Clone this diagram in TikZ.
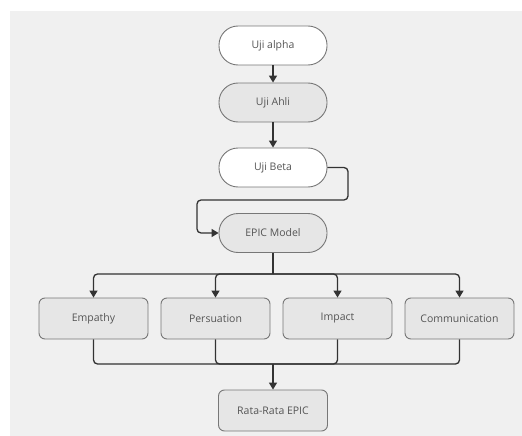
\documentclass[tikz,border=0pt]{standalone}
\usepackage{fontspec}
\setmainfont{Open Sans}
\usepackage{tikz}
\usepackage{xcolor}
\usetikzlibrary{arrows.meta,positioning,calc}
\definecolor{sheet}{HTML}{F0F0F0}
\definecolor{boxgray}{HTML}{E6E6E6}
\definecolor{rim}{HTML}{777777}
\definecolor{ink}{HTML}{333333}
\definecolor{textgray}{HTML}{555555}
\tikzset{
  pill/.style={draw=rim,fill=white,line width=0.9pt,rounded corners=19pt,
               minimum width=108pt,minimum height=39pt,align=center,
               font=\fontsize{10.5}{12}\selectfont,text=textgray},
  graypill/.style={pill,fill=boxgray},
  card/.style={draw=rim,fill=boxgray,line width=0.9pt,rounded corners=6pt,
               minimum width=109pt,minimum height=41pt,align=center,
               font=\fontsize{10.5}{12}\selectfont,text=textgray},
  link/.style={line width=1.3pt,draw=ink,rounded corners=4pt},
  arr/.style={link,-{Triangle[length=7pt,width=8pt]}}
}
\begin{document}
\begin{tikzpicture}[x=1pt,y=-1pt]
    \useasboundingbox (0,0) rectangle (522,436);
    \fill[sheet] (10,11) rectangle (522,436);
    % upper chain
    \node[pill] (alpha) at (273,45.5) {Uji alpha};
    \node[graypill] (ahli) at (273,102.5) {Uji Ahli};
    \node[pill] (beta) at (273,167.5) {Uji Beta};
    \node[graypill] (epic) at (273,233) {EPIC Model};
    % the four dimensions
    \node[card] (empathy) at (93.5,318.5) {Empathy};
    \node[card] (persuation) at (215.5,318.5) {Persuation};
    \node[card] (impact) at (337.5,318.5) {Impact};
    \node[card] (communication) at (459.5,318.5) {Communication};
    \node[card] (rata) at (273,410.5) {Rata-Rata EPIC};
    \coordinate (bend1) at (348,200);
    \coordinate (bend2) at (197,200);
    \coordinate (split) at (273,274);
    \coordinate (merge) at (273,364);
    \draw[arr] (alpha) -- (ahli);
    \draw[arr] (ahli) -- (beta);
    \draw[arr] (beta.east) -| (bend1) -- (bend2) |- (epic.west);
    \draw[link] (epic.south) -- (split);
    \foreach \n in {empathy,persuation,impact,communication}{
      \draw[arr] (split) -| (\n.north);
      \draw[link] (\n.south) |- (merge);
    }
    \draw[arr] (merge) -- (rata.north);
\end{tikzpicture}
\end{document}
